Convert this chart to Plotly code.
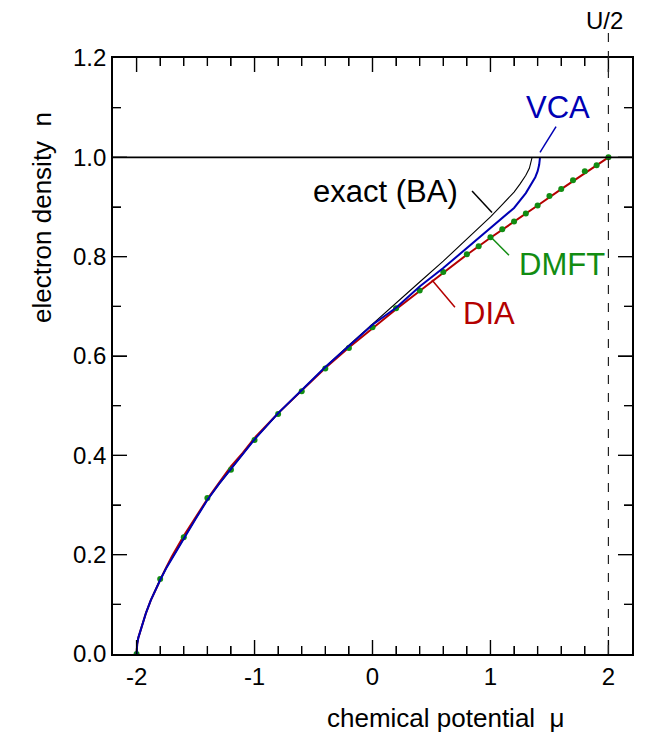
import plotly.graph_objects as go

# ---- data ----
exact_mu = [-2.0, -1.995, -1.985, -1.97, -1.95, -1.92, -1.88, -1.84, -1.8, -1.75, -1.7, -1.65, -1.6, -1.5,
            -1.4, -1.3, -1.2, -1.0, -0.8, -0.6, -0.4, -0.2,
            0.0, 0.2, 0.4, 0.6, 0.8, 1.0, 1.1, 1.2, 1.25, 1.3, 1.33, 1.345, 1.353]
exact_n = [0.0, 0.02, 0.033, 0.045, 0.062, 0.083, 0.108, 0.13, 0.15, 0.172, 0.193, 0.213, 0.232, 0.272,
           0.31, 0.342, 0.372, 0.432, 0.484, 0.531, 0.578, 0.622,
           0.665, 0.707, 0.749, 0.791, 0.835, 0.880, 0.905, 0.930, 0.946, 0.964, 0.978, 0.99, 1.0]

vca_mu = [-2.0, -1.995, -1.985, -1.97, -1.95, -1.92, -1.88, -1.84, -1.8, -1.75, -1.7, -1.65, -1.6, -1.5,
          -1.4, -1.3, -1.2, -1.0, -0.8, -0.6, -0.4, -0.2,
          0.0, 0.2, 0.4, 0.6, 0.8, 0.9, 1.0, 1.1, 1.2, 1.3, 1.35, 1.38, 1.40, 1.413, 1.42]
vca_n = [0.0, 0.02, 0.033, 0.045, 0.062, 0.083, 0.108, 0.13, 0.149, 0.172, 0.193, 0.213, 0.232, 0.272,
         0.31, 0.343, 0.373, 0.432, 0.485, 0.532, 0.578, 0.62,
         0.663, 0.697, 0.74, 0.777, 0.818, 0.837, 0.857, 0.878, 0.898, 0.928, 0.948, 0.96, 0.972, 0.985, 1.0]

dia_mu = [-2.0, -1.995, -1.985, -1.97, -1.95, -1.92, -1.88, -1.84, -1.8, -1.75, -1.7, -1.6, -1.5, -1.4,
          -1.3, -1.2, -1.1, -1.0, -0.8, -0.6,
          -0.4, -0.2, 0.0, 0.2, 0.4, 0.6, 0.8, 1.0, 1.2, 1.4, 1.6, 1.8, 2.0]
dia_n = [0.0, 0.02, 0.033, 0.045, 0.062, 0.083, 0.108, 0.13, 0.149, 0.174, 0.197, 0.238, 0.275, 0.312,
         0.345, 0.378, 0.405, 0.435, 0.485, 0.531,
         0.576, 0.617, 0.656, 0.694, 0.731, 0.768, 0.804, 0.838, 0.870, 0.903, 0.936, 0.968, 1.0]

dmft_mu = [-2.0, -1.8, -1.6, -1.4, -1.2, -1.0, -0.8, -0.6, -0.4, -0.2, 0.0, 0.2, 0.4, 0.6,
           0.8, 0.9, 1.0, 1.1, 1.2, 1.3, 1.4, 1.5, 1.6, 1.7, 1.8, 1.9, 2.0]
dmft_n = [0.0, 0.151, 0.235, 0.314, 0.371, 0.431, 0.483, 0.529, 0.575, 0.616, 0.658, 0.696, 0.732, 0.769,
          0.805, 0.821, 0.839, 0.855, 0.871, 0.887, 0.903, 0.922, 0.936, 0.954, 0.972, 0.984, 1.0]

x_tick_vals = [-2, -1, 0, 1, 2]
x_tick_text = ["-2", "-1", "0", "1", "2"]
y_tick_vals = [0.0, 0.2, 0.4, 0.6, 0.8, 1.0, 1.2]
y_tick_text = ["0.0", "0.2", "0.4", "0.6", "0.8", "1.0", "1.2"]
x_minor_step = 0.2
y_minor_step = 0.1
half_U = 2.0
n_half = 1.0

# ---- styling ----
FONT = "Liberation Sans, Arial, Helvetica, sans-serif"
BLACK = "#000000"
BLUE = "#0000b4"
RED = "#b40000"
GREEN = "#128c12"
X_RANGE = [-2.2, 2.2]
Y_RANGE = [0.0, 1.2]

# page body has an 8px margin -> figure is 654x730 placed at (8, 8)
W, H = 654, 730
ML, MR, MT, MB = 105, 30, 50, 84
PW = W - ML - MR
PH = H - MT - MB
MAJ, MIN = 14, 8

# pixel -> axis-unit conversion factors (from the axis ranges)
DX = (X_RANGE[1] - X_RANGE[0]) / PW
DY = (Y_RANGE[1] - Y_RANGE[0]) / PH


def tick_positions(lo, hi, step):
    k0 = int(round(lo / step))
    k1 = int(round(hi / step))
    return [round(k * step, 6) for k in range(k0, k1 + 1)]


fig = go.Figure()
fig.add_trace(go.Scatter(x=dia_mu, y=dia_n, mode="lines", line=dict(color=RED, width=2), name="DIA"))
fig.add_trace(go.Scatter(x=dmft_mu, y=dmft_n, mode="markers", marker=dict(color=GREEN, size=6),
                         name="DMFT"))
fig.add_trace(go.Scatter(x=exact_mu, y=exact_n, mode="lines", line=dict(color=BLACK, width=1.1), name="exact (BA)"))
fig.add_trace(go.Scatter(x=vca_mu, y=vca_n, mode="lines", line=dict(color=BLUE, width=2), name="VCA"))

# inward tick marks on all four sides, drawn as a line trace (segments separated by None)
tx, ty = [], []
for v in tick_positions(X_RANGE[0], X_RANGE[1], x_minor_step):
    if v <= X_RANGE[0] + 1e-9 or v >= X_RANGE[1] - 1e-9:
        continue
    L = MAJ if any(abs(v - t) < 1e-9 for t in x_tick_vals) else MIN
    tx += [v, v, None, v, v, None]
    ty += [Y_RANGE[0], Y_RANGE[0] + L * DY, None, Y_RANGE[1] - L * DY, Y_RANGE[1], None]
for v in tick_positions(Y_RANGE[0], Y_RANGE[1], y_minor_step):
    if v <= Y_RANGE[0] + 1e-9 or v >= Y_RANGE[1] - 1e-9:
        continue
    L = MAJ if any(abs(v - t) < 1e-9 for t in y_tick_vals) else MIN
    tx += [X_RANGE[0], X_RANGE[0] + L * DX, None, X_RANGE[1] - L * DX, X_RANGE[1], None]
    ty += [v, v, None, v, v, None]
fig.add_trace(go.Scatter(x=tx, y=ty, mode="lines", line=dict(color=BLACK, width=1.4),
                         hoverinfo="skip", name="ticks", connectgaps=False))

# horizontal line at n = 1
fig.add_shape(type="line", xref="paper", x0=0, x1=1, yref="y", y0=n_half, y1=n_half,
              line=dict(color=BLACK, width=1.6))
# dashed vertical line at mu = U/2 (paper coords, extends above the frame)
xp = (half_U - X_RANGE[0]) / (X_RANGE[1] - X_RANGE[0])
fig.add_shape(type="line", xref="paper", x0=xp, x1=xp, yref="paper", y0=0, y1=1 + 25 / PH,
              line=dict(color="#222222", width=1.2, dash="dash"))

# pointer lines for labels (data coords)
pointers = [
    ((1.42, 1.01), (1.556, 1.062), BLUE),
    ((0.844, 0.932), (1.013, 0.889), BLACK),
    ((1.005, 0.839), (1.157, 0.803), GREEN),
    ((0.504, 0.753), (0.699, 0.698), RED),
]
for (xa, ya), (xb, yb), col in pointers:
    fig.add_shape(type="line", xref="x", yref="y", x0=xa, y0=ya, x1=xb, y1=yb,
                  line=dict(color=col, width=1.5))

labels = [
    ("VCA", 1.572, 1.101, BLUE),
    ("exact (BA)", 0.106, 0.932, BLACK),
    ("DMFT", 1.606, 0.785, GREEN),
    ("DIA", 0.987, 0.686, RED),
]
for txt, lx, ly, col in labels:
    fig.add_annotation(x=lx, y=ly, xref="x", yref="y", text=txt, showarrow=False,
                       font=dict(family=FONT, size=31, color=col), xanchor="center", yanchor="middle")

fig.add_annotation(x=xp - 4 / PW, y=1 + 37 / PH, xref="paper", yref="paper", text="U/2",
                   showarrow=False, borderpad=0,
                   font=dict(family=FONT, size=24, color=BLACK), xanchor="center", yanchor="middle")

# axis titles as annotations (offset as in reference)
fig.add_annotation(x=(446 - 113) / PW, y=-(718 - 654) / PH, xref="paper", yref="paper",
                   text="chemical potential&nbsp;&nbsp;μ",
                   showarrow=False, font=dict(family=FONT, size=26, color=BLACK),
                   xanchor="center", yanchor="middle")
fig.add_annotation(x=(42 - 113) / PW, y=(654 - 218) / PH, xref="paper", yref="paper",
                   text="electron density&nbsp;&nbsp;n",
                   showarrow=False, font=dict(family=FONT, size=26, color=BLACK), textangle=-90,
                   xanchor="center", yanchor="middle")

fig.update_xaxes(range=X_RANGE, tickmode="array", tickvals=x_tick_vals, ticktext=x_tick_text,
                 showline=True, linecolor=BLACK, linewidth=1.6, mirror="allticks",
                 ticks="inside", ticklen=MAJ, tickwidth=1.4, tickcolor=BLACK,
                 minor=dict(dtick=x_minor_step, ticks="inside", ticklen=MIN, tickcolor=BLACK),
                 showgrid=False, zeroline=False, tickfont=dict(family=FONT, size=24, color=BLACK))
fig.update_yaxes(range=Y_RANGE, tickmode="array", tickvals=y_tick_vals, ticktext=y_tick_text,
                 showline=True, linecolor=BLACK, linewidth=1.6, mirror="allticks",
                 ticks="inside", ticklen=MAJ, tickwidth=1.4, tickcolor=BLACK,
                 minor=dict(dtick=y_minor_step, ticks="inside", ticklen=MIN, tickcolor=BLACK),
                 showgrid=False, zeroline=False, tickfont=dict(family=FONT, size=24, color=BLACK))

fig.update_layout(template="none", width=W, height=H, showlegend=False,
                  margin=dict(l=ML, r=MR, t=MT, b=MB),
                  paper_bgcolor="white", plot_bgcolor="white",
                  font=dict(family=FONT, color=BLACK))

fig.write_html("out.html")
